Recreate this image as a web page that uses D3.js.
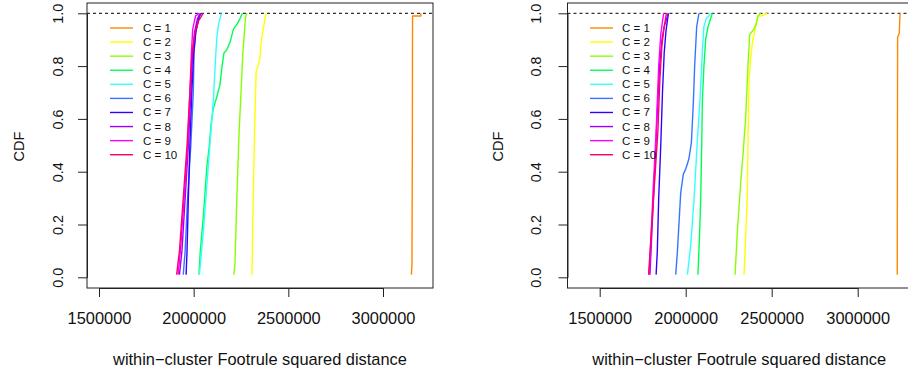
<!DOCTYPE html>
<html>
<head>
<meta charset="utf-8">
<script src="https://cdn.jsdelivr.net/npm/d3@7"></script>
<style>
  body { margin: 0; background: #fff; }
  svg { display: block; font-family: "Liberation Sans", Arial, Helvetica, sans-serif; }
</style>
</head>
<body>
<div id="chart"></div>
<script>
// tick values and legend labels
var xTicks = [1500000, 2000000, 2500000, 3000000];
var yTicks = [0, 0.2, 0.4, 0.6, 0.8, 1.0];
var seriesLabels = ["C = 1", "C = 2", "C = 3", "C = 4", "C = 5",
                    "C = 6", "C = 7", "C = 8", "C = 9", "C = 10"];
var seriesColors = ["#FF8800", "#FFFF00", "#88FF00", "#00FF55", "#33FFFF",
                    "#3377FF", "#3300FF", "#9900FF", "#FF00FF", "#FF0066"];

// CDF curves: [distance, cdf] pairs, one list per C
var leftCurves = [
  [[3150000,0.01],[3153000,0.05],[3155000,0.5],[3156000,0.99],[3200000,0.99],[3200000,1.0]],
  [[2308000,0.01],[2312000,0.2],[2320000,0.5],[2330000,0.78],[2340000,0.8],[2348000,0.82],[2355000,0.88],[2365000,0.93],[2382000,1.0]],
  [[2212000,0.01],[2218000,0.05],[2228000,0.3],[2240000,0.55],[2250000,0.7],[2260000,0.85],[2270000,0.95],[2275000,0.99],[2283000,1.0]],
  [[2028000,0.01],[2035000,0.1],[2051000,0.23],[2070000,0.42],[2083000,0.5],[2092000,0.58],[2104000,0.64],[2121000,0.68],[2139000,0.73],[2150000,0.8],[2160000,0.85],[2174000,0.86],[2192000,0.89],[2210000,0.94],[2230000,0.96],[2245000,0.98],[2257000,1.0]],
  [[2030000,0.01],[2051000,0.17],[2077000,0.42],[2104000,0.67],[2118000,0.86],[2124000,0.92],[2132000,0.96],[2146000,1.0]],
  [[1945000,0.01],[1955000,0.1],[1968000,0.3],[1985000,0.5],[1998000,0.7],[2002000,0.85],[2010000,0.93],[2025000,0.98],[2038000,1.0]],
  [[1960000,0.01],[1965000,0.1],[1972000,0.3],[1980000,0.5],[1990000,0.7],[2000000,0.85],[2012000,0.93],[2030000,0.99],[2040000,1.0]],
  [[1925000,0.01],[1938000,0.1],[1955000,0.3],[1972000,0.5],[1985000,0.7],[1995000,0.85],[2005000,0.93],[2020000,0.98],[2035000,1.0]],
  [[1918000,0.01],[1930000,0.1],[1950000,0.3],[1968000,0.5],[1980000,0.7],[1988000,0.85],[1995000,0.94],[2010000,0.99],[2030000,1.0]],
  [[1910000,0.01],[1925000,0.1],[1945000,0.3],[1965000,0.5],[1980000,0.7],[1992000,0.85],[2005000,0.92],[2025000,0.97],[2050000,1.0]]
];

var rightCurves = [
  [[3230000,0.01],[3231000,0.5],[3232000,0.91],[3240000,0.92],[3242000,0.93],[3245000,0.98],[3246000,1.0]],
  [[2339000,0.01],[2345000,0.1],[2358000,0.3],[2362000,0.5],[2368000,0.75],[2378000,0.83],[2388000,0.89],[2400000,0.93],[2410000,0.96],[2420000,0.99],[2440000,0.99],[2475000,1.0]],
  [[2287000,0.01],[2300000,0.17],[2320000,0.36],[2335000,0.48],[2349000,0.61],[2362000,0.8],[2372000,0.92],[2385000,0.93],[2397000,0.94],[2410000,0.96],[2420000,0.99],[2436000,1.0]],
  [[2071000,0.01],[2080000,0.15],[2087000,0.29],[2093000,0.5],[2097000,0.67],[2106000,0.8],[2116000,0.9],[2130000,0.95],[2145000,0.98],[2155000,1.0]],
  [[2010000,0.01],[2029000,0.12],[2048000,0.29],[2068000,0.52],[2083000,0.67],[2097000,0.86],[2106000,0.95],[2120000,0.98],[2135000,0.99],[2145000,1.0]],
  [[1942000,0.01],[1952000,0.1],[1971000,0.32],[1986000,0.39],[2000000,0.41],[2010000,0.43],[2019000,0.45],[2033000,0.51],[2045000,0.67],[2052000,0.8],[2064000,0.95],[2077000,1.0]],
  [[1828000,0.01],[1835000,0.1],[1843000,0.3],[1855000,0.5],[1865000,0.7],[1875000,0.85],[1885000,0.93],[1895000,0.98],[1900000,1.0]],
  [[1792000,0.01],[1802000,0.15],[1816000,0.35],[1833000,0.6],[1848000,0.8],[1862000,0.9],[1875000,0.95],[1890000,0.98],[1898000,1.0]],
  [[1788000,0.01],[1798000,0.15],[1812000,0.35],[1828000,0.55],[1843000,0.8],[1855000,0.92],[1865000,0.97],[1872000,1.0]],
  [[1784000,0.01],[1795000,0.12],[1810000,0.27],[1825000,0.42],[1838000,0.55],[1850000,0.75],[1862000,0.88],[1875000,0.95],[1888000,1.0]]
];

var svgWidth = 908;
var svgHeight = 376;

var svg = d3.select("#chart")
  .append("svg")
  .attr("width", svgWidth)
  .attr("height", svgHeight);

// pixel layout of each panel (box edges and where the end ticks sit)
var panels = [
  { curves: leftCurves, boxLeft: 87, boxRight: 433, x0: 99, x1: 383,
    yLabX: 62.5, cdfX: 24, legLine: 110, legText: 143 },
  { curves: rightCurves, boxLeft: 567.5, boxRight: 911, x0: 599.7, x1: 857.7,
    yLabX: 541, cdfX: 503, legLine: 590, legText: 622 }
];
var boxTop = 3;
var boxBottom = 288;

var yScale = d3.scaleLinear().domain([0, 1]).range([277.3, 13.3]);

panels.forEach(function(p, pi) {
  var xScale = d3.scaleLinear()
    .domain([xTicks[0], xTicks[xTicks.length - 1]])
    .range([p.x0, p.x1]);

  var clipId = "clip" + pi;
  svg.append("clipPath").attr("id", clipId)
    .append("rect")
    .attr("x", p.boxLeft).attr("y", boxTop)
    .attr("width", p.boxRight - p.boxLeft).attr("height", boxBottom - boxTop);

  var plot = svg.append("g").attr("clip-path", "url(#" + clipId + ")");

  // dashed reference line at CDF = 1
  plot.append("line")
    .attr("x1", p.boxLeft).attr("x2", p.boxRight)
    .attr("y1", yScale(1)).attr("y2", yScale(1))
    .attr("stroke", "#000")
    .attr("stroke-width", 1)
    .attr("stroke-dasharray", "3,3");

  var line = d3.line()
    .x(function(d) { return xScale(d[0]); })
    .y(function(d) { return yScale(d[1]); });

  plot.selectAll("path.cdf")
    .data(p.curves)
    .enter()
    .append("path")
    .attr("class", "cdf")
    .attr("d", line)
    .attr("fill", "none")
    .attr("stroke", function(d, i) { return seriesColors[i]; })
    .attr("stroke-width", 1.4)
    .attr("stroke-linejoin", "round");

  // box
  svg.append("rect")
    .attr("x", p.boxLeft).attr("y", boxTop)
    .attr("width", p.boxRight - p.boxLeft).attr("height", boxBottom - boxTop)
    .attr("fill", "none")
    .attr("stroke", "#222")
    .attr("stroke-width", 1);

  // x axis
  var xAxis = d3.axisBottom(xScale)
    .tickValues(xTicks)
    .tickSizeOuter(0)
    .tickSizeInner(9)
    .tickPadding(15)
    .tickFormat(d3.format("d"));

  var gx = svg.append("g")
    .attr("transform", "translate(0," + boxBottom + ")")
    .call(xAxis);
  gx.select(".domain").attr("stroke", "#222");
  gx.selectAll(".tick line").attr("stroke", "#222");
  gx.selectAll(".tick text")
    .attr("font-size", "16.4px")
    .attr("font-family", "Liberation Sans, Arial, sans-serif")
    .attr("fill", "#111")
    .attr("dy", "0.71em");

  // y axis
  var yAxis = d3.axisLeft(yScale)
    .tickValues(yTicks)
    .tickSizeOuter(0)
    .tickSizeInner(9)
    .tickFormat(d3.format(".1f"));

  var gy = svg.append("g")
    .attr("transform", "translate(" + p.boxLeft + ",0)")
    .call(yAxis);
  gy.select(".domain").attr("stroke", "#222");
  gy.selectAll(".tick line").attr("stroke", "#222");
  gy.selectAll(".tick text")
    .attr("x", null).attr("dy", null)
    .attr("font-size", "14.4px")
    .attr("font-family", "Liberation Sans, Arial, sans-serif")
    .attr("fill", "#111")
    .attr("text-anchor", "middle")
    .attr("transform", "translate(" + (p.yLabX - p.boxLeft) + ",0) rotate(-90)");

  // axis titles
  svg.append("text")
    .attr("x", (p.boxLeft + p.boxRight) / 2)
    .attr("y", 365)
    .attr("text-anchor", "middle")
    .attr("font-size", "16.4px")
    .attr("fill", "#111")
    .text("within\u2212cluster Footrule squared distance");

  svg.append("text")
    .attr("transform", "translate(" + p.cdfX + "," + 146.5 + ") rotate(-90)")
    .attr("text-anchor", "middle")
    .attr("font-size", "14.6px")
    .attr("fill", "#111")
    .text("CDF");

  // legend (no box)
  var legend = svg.append("g");
  var rows = legend.selectAll("g")
    .data(seriesLabels)
    .enter()
    .append("g")
    .attr("transform", function(d, i) { return "translate(0," + (28 + i * 14.08) + ")"; });

  rows.append("line")
    .attr("x1", p.legLine).attr("x2", p.legLine + 23)
    .attr("y1", 0).attr("y2", 0)
    .attr("stroke", function(d, i) { return seriesColors[i]; })
    .attr("stroke-width", 1.4);

  rows.append("text")
    .attr("x", p.legText)
    .attr("y", 4)
    .attr("font-size", "11.5px")
    .attr("fill", "#111")
    .text(function(d) { return d; });
});
</script>
</body>
</html>
